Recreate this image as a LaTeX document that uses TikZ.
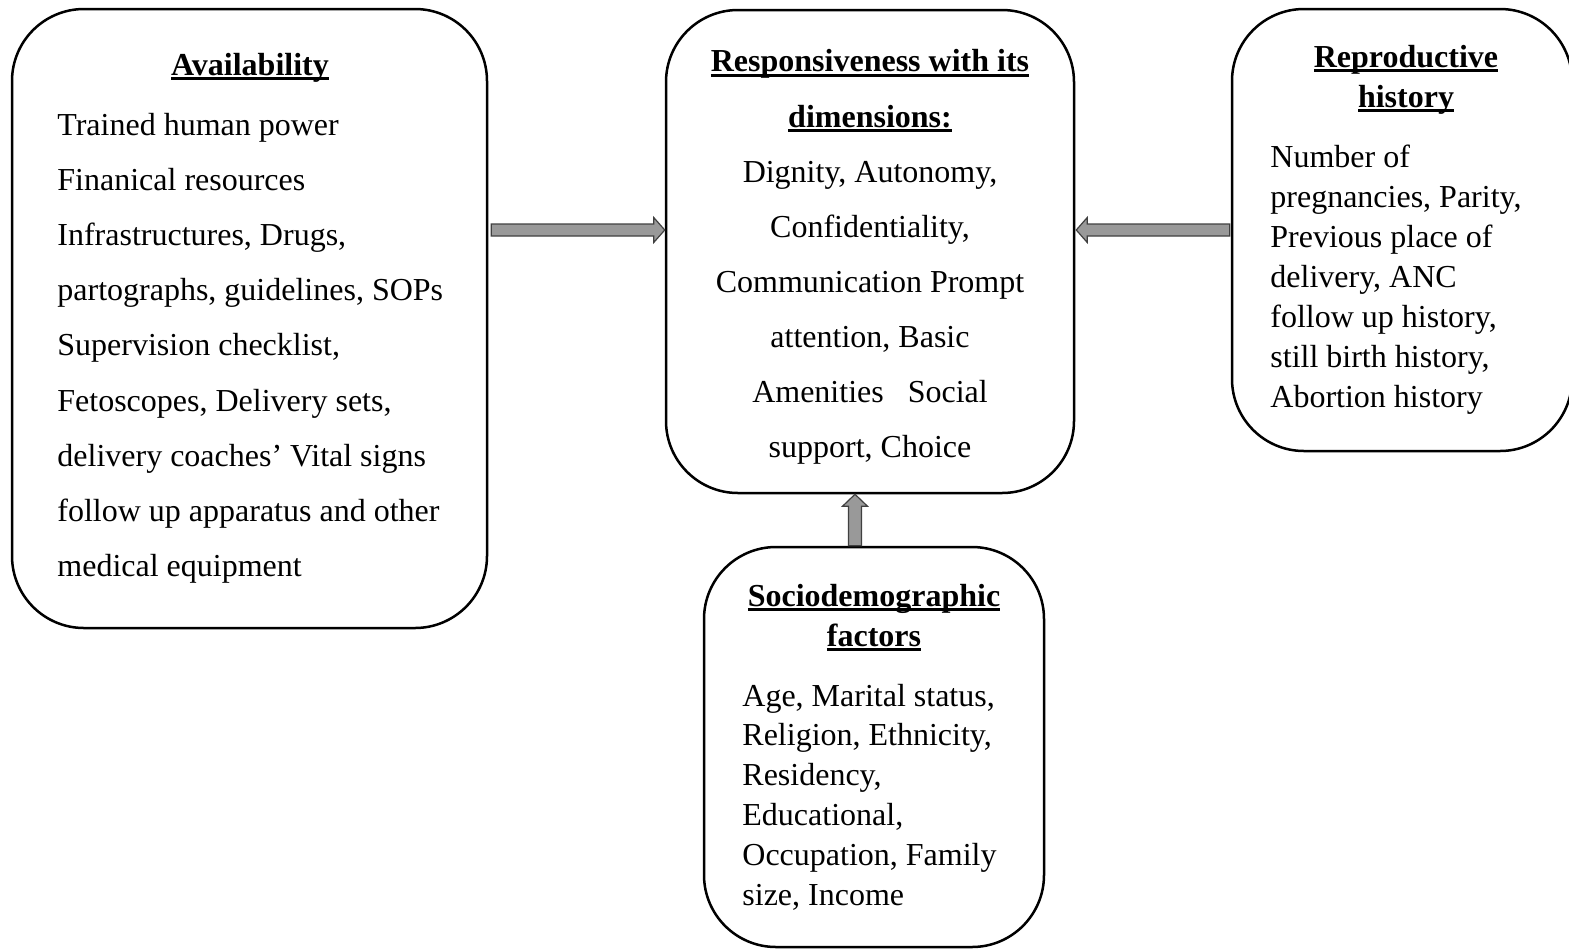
\documentclass[tikz,border=0pt]{standalone}
\usepackage{fontspec}
\setmainfont{Liberation Serif}
\usetikzlibrary{fit,calc}
\newcommand\wul[1]{\setbox0\hbox{#1}\rlap{\rule[-2.5pt]{\wd0}{1.4pt}}\box0}
\begin{document}
\begin{tikzpicture}[x=0.5pt,y=-0.5pt,
  box/.style={draw, line width=1.25pt, rounded corners=36pt, inner sep=0pt},
  txt/.style={inner sep=0pt, font=\fontsize{16}{19}\selectfont},
  ttl/.style={inner sep=0pt, font=\fontsize{16}{19}\selectfont\bfseries},
  fat/.style={draw=black!75, fill=black!40, line width=0.6pt, line join=miter}]
\useasboundingbox (0,0) rectangle (1569,949);
% boxes
\node[box, fit={(12,9)(487,628)}] (avail) {};
\node[box, fit={(666,10)(1074,493)}] (resp) {};
\node[box, fit={(1232,9)(1572,451)}] (repro) {};
\node[box, fit={(704,547)(1044,947)}] (socio) {};
% availability
\node[ttl, anchor=base] (avt) at (250,75) {\wul{Availability}};
\foreach [count=\i] \t in {Trained human power, Finanical resources, {Infrastructures, Drugs,}, {partographs, guidelines, SOPs}, {Supervision checklist,}, {Fetoscopes, Delivery sets,}, {delivery coaches’ Vital signs}, {follow up apparatus and other}, {medical equipment}}
  \node[txt, anchor=base west] (av\i) at (57,{135.5+55.1*(\i-1)}) {\t};
% responsiveness
\node[ttl, anchor=base] (rst1) at (870,71.5) {\wul{Responsiveness with its}};
\node[ttl, anchor=base] (rst2) at (870,127) {\wul{dimensions:}};
\foreach [count=\i] \t in {{Dignity, Autonomy,}, {Confidentiality,}, {Communication Prompt}, {attention, Basic}, {Amenities\ \ \ Social}, {support, Choice}}
  \node[txt, anchor=base] (rs\i) at (870,{182+55.1*(\i-1)}) {\t};
% reproductive history
\node[ttl, anchor=base] (rpt1) at (1406,67) {\wul{Reproductive}};
\node[ttl, anchor=base] (rpt2) at (1406,107) {\wul{history}};
\foreach [count=\i] \t in {Number of, {pregnancies, Parity,}, Previous place of, {delivery, ANC}, {follow up history,}, {still birth history,}, Abortion history}
  \node[txt, anchor=base west] (rp\i) at (1270,{167+40*(\i-1)}) {\t};
% sociodemographic
\node[ttl, anchor=base] (sdt1) at (874,606) {\wul{Sociodemographic}};
\node[ttl, anchor=base] (sdt2) at (874,646) {\wul{factors}};
\foreach [count=\i] \t in {{Age, Marital status,}, {Religion, Ethnicity,}, {Residency,}, {Educational,}, {Occupation, Family}, {size, Income}}
  \node[txt, anchor=base west] (sd\i) at (742,{706+39.8*(\i-1)}) {\t};
% arrows
\coordinate (lvl) at (0,230);
\coordinate (col) at (855,0);
\coordinate (s1) at ($(avail.east|-lvl)+(3,0)$);
\coordinate (t1) at (resp.west|-lvl);
\draw[fat] ($(s1)+(0,-6)$) -- ($(t1)+(-11,-6)$) -- ($(t1)+(-11,-12.5)$) -- (t1) -- ($(t1)+(-11,12.5)$) -- ($(t1)+(-11,6)$) -- ($(s1)+(0,6)$) -- cycle;
\coordinate (s2) at ($(repro.west|-lvl)+(-1,0)$);
\coordinate (t2) at ($(resp.east|-lvl)+(1,0)$);
\draw[fat] ($(s2)+(0,-6)$) -- ($(t2)+(11,-6)$) -- ($(t2)+(11,-12.5)$) -- (t2) -- ($(t2)+(11,12.5)$) -- ($(t2)+(11,6)$) -- ($(s2)+(0,6)$) -- cycle;
\coordinate (s3) at (socio.north-|col);
\coordinate (t3) at (resp.south-|col);
\draw[fat] ($(s3)+(-6.5,0)$) -- ($(t3)+(-6.5,12)$) -- ($(t3)+(-12.5,12)$) -- (t3) -- ($(t3)+(12.5,12)$) -- ($(t3)+(6.5,12)$) -- ($(s3)+(6.5,0)$) -- cycle;
\end{tikzpicture}
\end{document}
